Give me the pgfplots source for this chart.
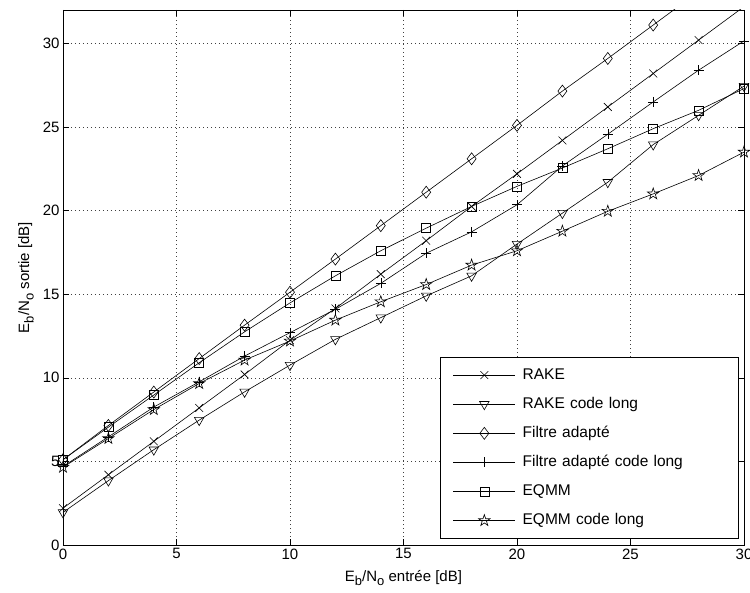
\documentclass[border=0pt]{standalone}
\usepackage{fontspec}
\setmainfont{Liberation Sans}
\usepackage{pgfplots}
\pgfplotsset{compat=1.18}

\newcommand{\sub}[1]{\raisebox{-4.5pt}{\fontsize{13}{13}\selectfont #1}}

\pgfdeclareplotmark{pentagram}{%
  \pgfpathmoveto{\pgfpointpolar{90}{\pgfplotmarksize}}%
  \pgfpathlineto{\pgfpointpolar{126}{0.382\pgfplotmarksize}}%
  \pgfpathlineto{\pgfpointpolar{162}{\pgfplotmarksize}}%
  \pgfpathlineto{\pgfpointpolar{198}{0.382\pgfplotmarksize}}%
  \pgfpathlineto{\pgfpointpolar{234}{\pgfplotmarksize}}%
  \pgfpathlineto{\pgfpointpolar{270}{0.382\pgfplotmarksize}}%
  \pgfpathlineto{\pgfpointpolar{306}{\pgfplotmarksize}}%
  \pgfpathlineto{\pgfpointpolar{342}{0.382\pgfplotmarksize}}%
  \pgfpathlineto{\pgfpointpolar{18}{\pgfplotmarksize}}%
  \pgfpathlineto{\pgfpointpolar{54}{0.382\pgfplotmarksize}}%
  \pgfpathclose\pgfusepathqstroke}

\begin{document}
\begin{tikzpicture}[font=\fontsize{15}{18}\selectfont]
\useasboundingbox (-63pt,-47pt) rectangle (687pt,545pt);
\begin{axis}[
  at={(0,0)}, anchor=south west,
  scale only axis, width=681pt, height=535pt,
  xmin=0, xmax=30, ymin=0, ymax=32,
  xtick={0,5,...,30}, ytick={0,5,...,30},
  grid=major,
  major grid style={black!75, dash pattern=on 0.8pt off 3.2pt, line width=0.5pt},
  tick align=inside, major tick length=6pt, tick pos=both,
  axis line style={line width=0.8pt},
  every tick/.style={black, line width=0.6pt},
  /pgf/number format/assume math mode=true,
  tick label style={font=\fontsize{15}{18}\selectfont},
  every axis x label/.style={at={(axis description cs:0.5,0)}, yshift=-33pt, anchor=center},
  every axis y label/.style={at={(axis description cs:0,0.5)}, xshift=-37pt, rotate=90, anchor=center},
  xlabel={E\sub{b}/N\sub{o} entrée [dB]},
  ylabel={E\sub{b}/N\sub{o} sortie [dB]},
  every axis plot/.append style={black, line width=0.6pt},
  legend image code/.code={\draw[mark repeat=2,mark phase=2,#1] plot coordinates {(0pt,0pt) (31pt,0pt) (62pt,0pt)};},
  legend cell align=left,
  legend style={at={(0.9927,0.0112)}, anchor=south east, draw=black, line width=0.8pt,
    inner xsep=13pt, inner ysep=11pt, row sep=15.1pt,
    font=\fontsize{15.5}{18}\selectfont,
    nodes={inner sep=0pt, text height=11pt, text depth=3pt, text width=203pt},
    /tikz/every odd column/.style={column sep=7pt}},
]
% RAKE
\addplot[mark=x, mark size=5.5pt] coordinates {
(0,2.2) (2,4.2) (4,6.2) (6,8.2) (8,10.2) (10,12.25) (12,14.15) (14,16.2) (16,18.2) (18,20.25) (20,22.2) (22,24.2) (24,26.2) (26,28.2) (28,30.2) (30,32.2)};
\addlegendentry{RAKE}
% RAKE code long
\addplot[mark=triangle, mark size=5.5pt, mark options={rotate=180}] coordinates {
(0,1.95) (2,3.85) (4,5.7) (6,7.47) (8,9.16) (10,10.76) (12,12.3) (14,13.6) (16,14.9) (18,16.1) (20,18.0) (22,19.85) (24,21.7) (26,23.95) (28,25.7) (30,27.45)};
\addlegendentry{RAKE code long}
% Filtre adapte
\addplot[mark=diamond, mark size=6pt] coordinates {
(0,5.1) (2,7.15) (4,9.15) (6,11.15) (8,13.15) (10,15.12) (12,17.1) (14,19.1) (16,21.1) (18,23.1) (20,25.1) (22,27.15) (24,29.1) (26,31.1) (28,33.1) (30,35.1)};
\addlegendentry{Filtre adapté}
% Filtre adapte code long
\addplot[mark=+, mark size=5pt] coordinates {
(0,4.7) (2,6.47) (4,8.25) (6,9.76) (8,11.3) (10,12.7) (12,14.1) (14,15.65) (16,17.45) (18,18.73) (20,20.35) (22,22.67) (24,24.57) (26,26.5) (28,28.4) (30,30.15)};
\addlegendentry{Filtre adapté code long}
% EQMM
\addplot[mark=square, mark size=4.5pt] coordinates {
(0,5.1) (2,7.05) (4,8.97) (6,10.9) (8,12.75) (10,14.48) (12,16.1) (14,17.6) (16,18.95) (18,20.25) (20,21.45) (22,22.55) (24,23.7) (26,24.9) (28,26.0) (30,27.3)};
\addlegendentry{EQMM}
% EQMM code long
\addplot[mark=pentagram, mark size=6pt] coordinates {
(0,4.65) (2,6.37) (4,8.1) (6,9.66) (8,11.06) (10,12.2) (12,13.45) (14,14.55) (16,15.58) (18,16.74) (20,17.6) (22,18.77) (24,19.96) (26,21.0) (28,22.1) (30,23.5)};
\addlegendentry{EQMM code long}
\end{axis}
\end{tikzpicture}
\end{document}
